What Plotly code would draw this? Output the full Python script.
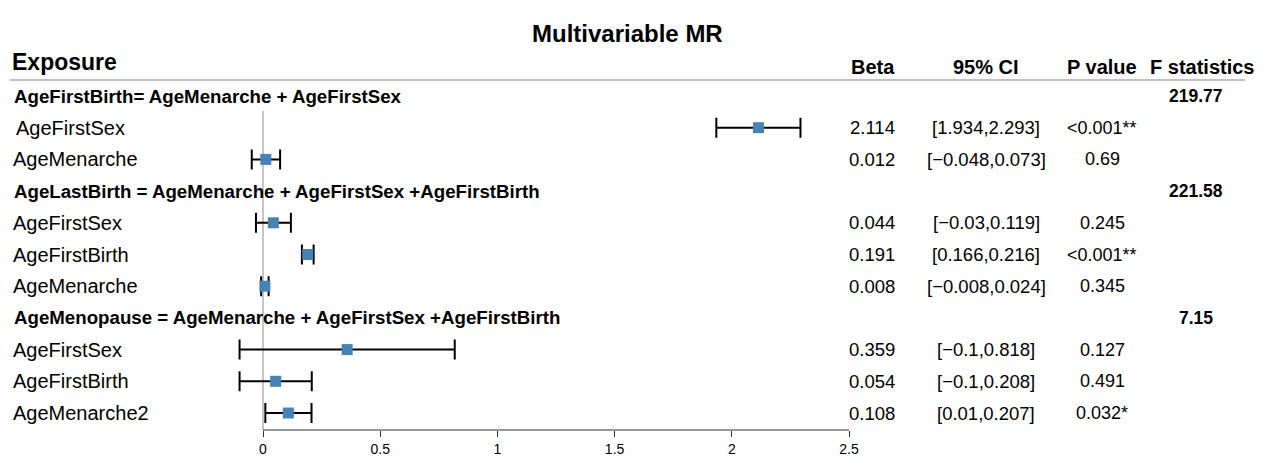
import plotly.graph_objects as go

# ---------------- data ----------------
group_titles = [
    "AgeFirstBirth= AgeMenarche + AgeFirstSex",
    "AgeLastBirth = AgeMenarche + AgeFirstSex +AgeFirstBirth",
    "AgeMenopause = AgeMenarche + AgeFirstSex +AgeFirstBirth",
]
group_f = ["219.77", "221.58", "7.15"]
group_sizes = [2, 3, 3]

exposures = ["AgeFirstSex", "AgeMenarche",
             "AgeFirstSex", "AgeFirstBirth", "AgeMenarche",
             "AgeFirstSex", "AgeFirstBirth", "AgeMenarche2"]
beta = [2.114, 0.012, 0.044, 0.191, 0.008, 0.359, 0.054, 0.108]
ci_low = [1.934, -0.048, -0.03, 0.166, -0.008, -0.1, -0.1, 0.01]
ci_high = [2.293, 0.073, 0.119, 0.216, 0.024, 0.818, 0.208, 0.207]
p_values = ["<0.001**", "0.69", "0.245", "<0.001**", "0.345", "0.127", "0.491", "0.032*"]

tick_vals = [0, 0.5, 1, 1.5, 2, 2.5]
tick_text = ["0", "0.5", "1", "1.5", "2", "2.5"]

# ---------------- layout helpers ----------------
W, H = 1265, 459
ROW0_PX, ROW_PX = 96.0, 31.7          # pixel of row 0, pixels per row
X0_PX, X_SCALE = 263.0, 586.0 / 2.5   # pixel of x=0, pixels per unit


def row_of(px):
    return (px - ROW0_PX) / ROW_PX


def px_x(px):
    return px / W


FONT = "Liberation Sans, Arial, Helvetica, sans-serif"

# assign rows
header_rows, item_rows = [], []
r = 0
for n in group_sizes:
    header_rows.append(r)
    r += 1
    for _ in range(n):
        item_rows.append(r)
        r += 1


def s(v):
    return str(v).replace("-", "\u2212")


fig = go.Figure()

fig.add_trace(go.Scatter(
    x=beta, y=item_rows, mode="markers",
    marker=dict(symbol="square", size=11, color="#4682B4"),
    error_x=dict(type="data", symmetric=False,
                 array=[h - b for h, b in zip(ci_high, beta)],
                 arrayminus=[b - l for b, l in zip(beta, ci_low)],
                 color="black", thickness=2, width=10),
    cliponaxis=False, showlegend=False, hoverinfo="skip",
))

ann = []


def add_text(x_px, y_row, text, size, anchor="center"):
    ann.append(dict(x=px_x(x_px), y=y_row, xref="paper", yref="y", text=text,
                    showarrow=False, font=dict(size=size, family=FONT, color="black"),
                    xanchor=anchor, yanchor="middle"))


add_text(627, row_of(33), "<b>Multivariable MR</b>", 24)
add_text(10, row_of(62), "<b>Exposure</b>", 23, "left")
col_x = {"beta": 872, "ci": 986, "p": 1102, "f": 1196}
for txt, cx in [("Beta", 873), ("95% CI", 986), ("P value", 1102), ("F statistics", 1202)]:
    add_text(cx, row_of(67), f"<b>{txt}</b>", 20)

for gt, gf, hr in zip(group_titles, group_f, header_rows):
    add_text(12, hr, f"<b>{gt}</b>", 18.7, "left")
    add_text(col_x["f"], hr, f"<b>{gf}</b>", 17.5)

for i, (name, b, lo, hi, p, rr) in enumerate(zip(exposures, beta, ci_low, ci_high, p_values, item_rows)):
    add_text(14 if i == 0 else 11, rr, name, 20, "left")
    add_text(col_x["beta"], rr, f"{b:.3f}", 18.5)
    add_text(col_x["ci"], rr, f"[{s(lo)},{s(hi)}]", 18.5)
    add_text(col_x["p"], rr, p, 18)

axis_row = row_of(430)
shapes = [
    # header underline
    dict(type="line", xref="paper", yref="y", x0=px_x(10), x1=px_x(1245),
         y0=row_of(80), y1=row_of(80), line=dict(color="#c0c0c0", width=2)),
    # reference line at 0
    dict(type="line", xref="x", yref="y", x0=0, x1=0, y0=row_of(111), y1=axis_row,
         line=dict(color="#8c8c8c", width=1), layer="below"),
    # x axis line
    dict(type="line", xref="x", yref="y", x0=tick_vals[0], x1=tick_vals[-1],
         y0=axis_row, y1=axis_row, line=dict(color="#333333", width=1.2)),
]

fig.update_layout(
    width=W, height=H,
    margin=dict(l=0, r=0, t=0, b=0),
    paper_bgcolor="white", plot_bgcolor="white",
    xaxis=dict(domain=[0, 1], range=[-X0_PX / X_SCALE, (W - X0_PX) / X_SCALE],
               showgrid=False, zeroline=False, showline=False,
               tickmode="array", tickvals=tick_vals, ticktext=tick_text,
               ticks="outside", ticklen=6, tickwidth=1.2, tickcolor="#333333",
               tickfont=dict(size=14, family=FONT, color="black"),
               anchor="free", position=1 - 430 / H, side="bottom"),
    yaxis=dict(domain=[0, 1], range=[row_of(H), row_of(0)], visible=False,
               showgrid=False, zeroline=False),
    annotations=ann, shapes=shapes,
)

fig.write_html("out.html")
